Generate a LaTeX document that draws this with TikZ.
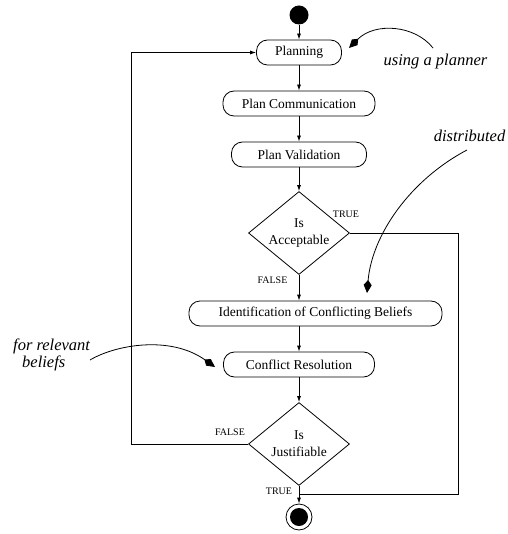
\documentclass[tikz,border=0pt]{standalone}
\usepackage{fontspec}
\setmainfont{Liberation Serif}
\usetikzlibrary{shapes.geometric,arrows.meta}
\begin{document}
\begin{tikzpicture}[x=1pt,y=-1pt,
  every node/.style={font=\fontsize{13.5}{17}\selectfont},
  act/.style={draw, rounded corners=11pt, minimum height=25pt, inner sep=0pt, line width=0.8pt},
  dec/.style={draw, diamond, aspect=1.2, minimum width=101pt, minimum height=83pt, inner sep=0pt, align=center, line width=0.8pt},
  flow/.style={-{Latex[length=6pt,width=4pt]}, line width=0.8pt},
  plain/.style={line width=0.8pt},
  guard/.style={font=\fontsize{10}{12}\selectfont, inner sep=0pt},
  note/.style={font=\fontsize{16.5}{17}\selectfont\itshape, align=left, inner sep=0pt},
  ann/.style={-{Kite[length=13pt,width=8pt,inset=5pt]}, line width=0.8pt}
]
\useasboundingbox (0,0) rectangle (507,534);

\node[circle, fill, minimum size=19pt, inner sep=0pt] (start) at (299,15) {};
\node[act, minimum width=85pt] (plan) at (299,52.5) {Planning};
\node[act, minimum width=152pt] (comm) at (299,103.5) {Plan Communication};
\node[act, minimum width=135pt] (val) at (299,154.5) {Plan Validation};
\node[dec] (acc) at (299,233) {Is\\Acceptable};
\node[act, minimum width=253pt] (ident) at (315.5,313.5) {Identification of Conflicting Beliefs};
\node[act, minimum width=151pt] (res) at (299,364.5) {Conflict Resolution};
\node[dec] (just) at (299,444) {Is\\Justifiable};
\node[circle, draw, line width=0.8pt, minimum size=26pt, inner sep=0pt] (end) at (299,517) {};
\node[circle, fill, minimum size=18pt, inner sep=0pt] (endin) at (end.center) {};

\draw[flow] (start) -- (plan);
\draw[flow] (plan) -- (comm);
\draw[flow] (comm) -- (val);
\draw[flow] (val) -- (acc);
\draw[flow] (acc.south) -- (acc.south |- ident.north);
\draw[flow] (res.north |- ident.south) -- (res.north);
\draw[flow] (res) -- (just);
\draw[flow] (just) -- (end);

\coordinate (c1) at (458,233);
\coordinate (c2) at (458,494);
\draw[plain] (acc.east) -- (c1) -- (c2) -- (just.south |- c2);
\coordinate (c3) at (131,444);
\draw[flow] (just.west) -- (c3) |- (plan.west);

\node[guard] (t1) at (346,214) {TRUE};
\node[guard] (f1) at (272.5,280) {FALSE};
\node[guard] (f2) at (230,432) {FALSE};
\node[guard] (t2) at (279,491) {TRUE};

\node[note] (n1) at (435.5,62) {using a planner};
\node[note] (n2) at (469.5,136) {distributed};
\node[note, anchor=west] (n3) at (13,354.5) {for relevant\\\hspace*{9pt}beliefs};

\coordinate (a1) at (433,48);
\coordinate (a1t) at (349,48);
\draw[ann] (a1) .. controls (415,25) and (375,22) .. (a1t);
\coordinate (a2) at (467,150);
\coordinate (a2t) at (367,293);
\draw[ann] (a2) .. controls (410,180) and (372,235) .. (a2t);
\coordinate (a3) at (90,360);
\coordinate (a3t) at (215,367);
\draw[ann] (a3) .. controls (115,345) and (170,335) .. (a3t);
\end{tikzpicture}
\end{document}
